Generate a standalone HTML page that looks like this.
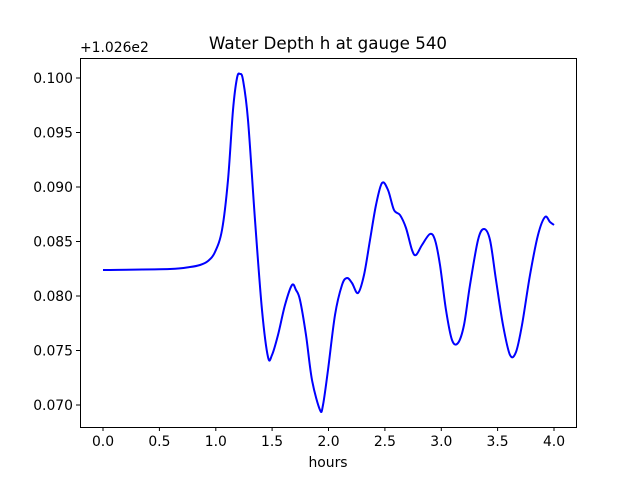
<!DOCTYPE html>
<html><head><meta charset="utf-8"><style>
html,body{margin:0;padding:0;background:#fff;}
svg{display:block;font-family:"DejaVu Sans",sans-serif;}
</style></head><body>
<svg width="640" height="480" viewBox="0 0 640 480" xmlns="http://www.w3.org/2000/svg">
<rect width="640" height="480" fill="#fff"/>
<text x="328" y="49" font-size="16.7" text-anchor="middle">Water Depth h at gauge 540</text>
<text x="80" y="52" font-size="13.9">+1.026e2</text>
<path id="curve" fill="none" stroke="#0000ff" stroke-width="2" stroke-linejoin="round" d="M103,270 L170,269 L190,267 L200,265 L208,261 L215,252 L222,230 L228,180 L233,110 L237,78 L240,74 L243,80 L248,120 L255,220 L262,310 L268,357 L272,355 L278,335 L285,305 L292,285 L296,290 L300,300 L306,335 L312,380 L320,410 L323,405 L328,370 L335,315 L342,285 L347,278 L352,283 L358,293 L364,275 L370,240 L376,205 L382,183 L388,190 L394,210 L400,215 L406,228 L412,250 L416,255 L422,245 L430,234 L435,240 L440,265 L446,310 L452,340 L458,343 L464,325 L470,285 L478,240 L484,229 L490,240 L496,280 L503,325 L510,355 L516,352 L522,325 L530,275 L538,235 L545,217 L550,222 L554,225"/>
<rect x="80.5" y="58.5" width="496" height="369" fill="none" stroke="#000" stroke-width="1"/>
<g stroke="#000" stroke-width="1">
<line x1="103" y1="427" x2="103" y2="431"/><line x1="159.4" y1="427" x2="159.4" y2="431"/><line x1="215.8" y1="427" x2="215.8" y2="431"/><line x1="272.1" y1="427" x2="272.1" y2="431"/><line x1="328.5" y1="427" x2="328.5" y2="431"/><line x1="384.9" y1="427" x2="384.9" y2="431"/><line x1="441.3" y1="427" x2="441.3" y2="431"/><line x1="497.6" y1="427" x2="497.6" y2="431"/><line x1="554" y1="427" x2="554" y2="431"/>
<line x1="76" y1="78" x2="80" y2="78"/><line x1="76" y1="132.5" x2="80" y2="132.5"/><line x1="76" y1="187" x2="80" y2="187"/><line x1="76" y1="241.5" x2="80" y2="241.5"/><line x1="76" y1="296" x2="80" y2="296"/><line x1="76" y1="350.5" x2="80" y2="350.5"/><line x1="76" y1="405" x2="80" y2="405"/>
</g>
<g font-size="13.9" text-anchor="middle">
<text x="103" y="446">0.0</text><text x="159.4" y="446">0.5</text><text x="215.8" y="446">1.0</text><text x="272.1" y="446">1.5</text><text x="328.5" y="446">2.0</text><text x="384.9" y="446">2.5</text><text x="441.3" y="446">3.0</text><text x="497.6" y="446">3.5</text><text x="554" y="446">4.0</text>
<text x="328" y="467">hours</text>
</g>
<g font-size="13.9" text-anchor="end">
<text x="73" y="83">0.100</text><text x="73" y="137.5">0.095</text><text x="73" y="192">0.090</text><text x="73" y="246.5">0.085</text><text x="73" y="301">0.080</text><text x="73" y="355.5">0.075</text><text x="73" y="410">0.070</text>
</g>
</svg>
<script>
(function(){
var p=document.getElementById('curve');
var nums=p.getAttribute('d').match(/-?\d+(\.\d+)?/g).map(Number);
var pts=[];for(var i=0;i<nums.length;i+=2)pts.push([nums[i],nums[i+1]]);
var d='M'+pts[0][0]+','+pts[0][1];
for(var i=0;i<pts.length-1;i++){
var p0=pts[Math.max(0,i-1)],p1=pts[i],p2=pts[i+1],p3=pts[Math.min(pts.length-1,i+2)];
var c1x=p1[0]+(p2[0]-p0[0])/6,c1y=p1[1]+(p2[1]-p0[1])/6;
var c2x=p2[0]-(p3[0]-p1[0])/6,c2y=p2[1]-(p3[1]-p1[1])/6;
d+=' C'+c1x.toFixed(2)+','+c1y.toFixed(2)+' '+c2x.toFixed(2)+','+c2y.toFixed(2)+' '+p2[0]+','+p2[1];
}
p.setAttribute('d',d);
})();
</script>
</body></html>
